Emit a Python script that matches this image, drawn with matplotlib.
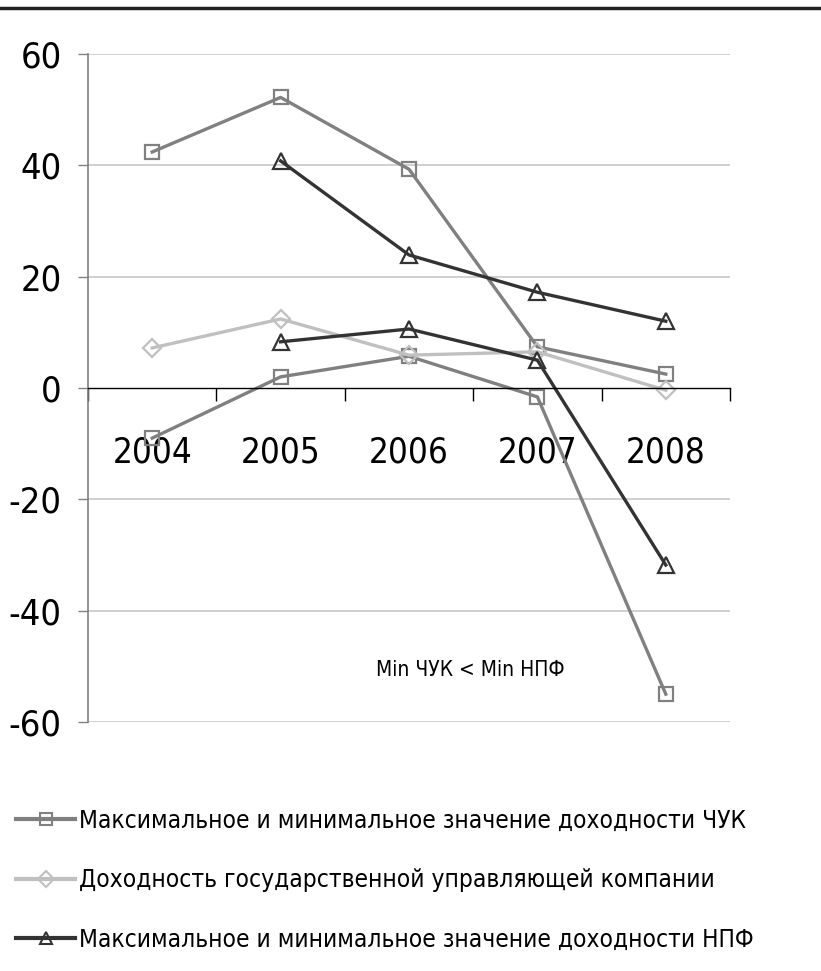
import matplotlib
matplotlib.use('Agg')
import matplotlib.pyplot as plt
from matplotlib.lines import Line2D

plt.rcParams['font.family'] = ['DejaVu Sans']
plt.rcParams['font.stretch'] = 'condensed'
plt.rcParams['axes.unicode_minus'] = False

# Data
years = ['2004', '2005', '2006', '2007', '2008']
chuk_max = [42.4, 52.2, 39.3, 7.4, 2.5]
chuk_min = [-9.0, 2.0, 5.7, -1.6, -55.0]
gov = [7.2, 12.4, 5.9, 6.5, -0.4]
npf_years = ['2005', '2006', '2007', '2008']
npf_max = [40.8, 23.9, 17.2, 12.0]
npf_min = [8.3, 10.6, 5.0, -31.8]

label_chuk = 'Максимальное и минимальное значение доходности ЧУК'
label_gov = 'Доходность государственной управляющей компании'
label_npf = 'Максимальное и минимальное значение доходности НПФ'
note = 'Min ЧУК < Min НПФ'

c_chuk = '#808080'
c_gov = '#c0c0c0'
c_npf = '#333333'

fig = plt.figure(figsize=(8.21, 9.71), dpi=100)
ax = fig.add_axes([88 / 821, 1 - 722 / 971, 642 / 821, 668 / 971])

x = list(range(len(years)))
xn = [years.index(y) for y in npf_years]

style = dict(lw=2.4, ms=10, mew=1.6, fillstyle='none')
ax.plot(x, chuk_max, color=c_chuk, marker='s', **style)
ax.plot(x, chuk_min, color=c_chuk, marker='s', **style)
ax.plot(x, gov, color=c_gov, marker='D', **{**style, 'ms': 9})
ax.plot(xn, npf_max, color=c_npf, marker='^', **{**style, 'ms': 11})
ax.plot(xn, npf_min, color=c_npf, marker='^', **{**style, 'ms': 11})

ax.set_xlim(-0.5, len(years) - 0.5)
ax.set_ylim(-60, 60)
ax.set_yticks(range(-60, 61, 20))
ax.tick_params(axis='y', direction='out', length=7, width=1, color='#808080',
               labelsize=26, pad=12)

for v in range(-60, 61, 20):
    if v != 0:
        ax.axhline(v, color='#c8c8c8', lw=1.2, zorder=0)

ax.spines['top'].set_visible(False)
ax.spines['right'].set_visible(False)
ax.spines['left'].set_color('#808080')
ax.spines['left'].set_linewidth(1.2)
ax.spines['bottom'].set_position(('data', 0))
ax.spines['bottom'].set_color('black')
ax.spines['bottom'].set_linewidth(1)

ax.set_xticks([i - 0.5 for i in range(len(years) + 1)])
ax.set_xticklabels([])
ax.set_xticks(x, minor=True)
ax.set_xticklabels(years, minor=True)
ax.tick_params(axis='x', which='major', direction='out', length=9, width=1, color='black')
ax.tick_params(axis='x', which='minor', length=0, labelsize=25, pad=34)

ax.text(2.475, -50.6, note, ha='center', va='center', fontsize=15)

handles = [
    Line2D([], [], color=c_chuk, marker='s', lw=3, ms=8, mew=1.5, fillstyle='none'),
    Line2D([], [], color=c_gov, marker='D', lw=3, ms=8, mew=1.5, fillstyle='none'),
    Line2D([], [], color=c_npf, marker='^', lw=3, ms=9, mew=1.5, fillstyle='none'),
]
fig.legend(handles, [label_chuk, label_gov, label_npf], loc='upper left',
           bbox_to_anchor=(0.008, 1 - 799 / 971), frameon=False, fontsize=17.6,
           handlelength=2.4, handletextpad=0.15, labelspacing=1.45, borderaxespad=0)

fig.add_artist(Line2D([0, 1], [1 - 8 / 971, 1 - 8 / 971], color='#222222', lw=2.5,
                      transform=fig.transFigure))

fig.savefig('out.png', dpi=100)
